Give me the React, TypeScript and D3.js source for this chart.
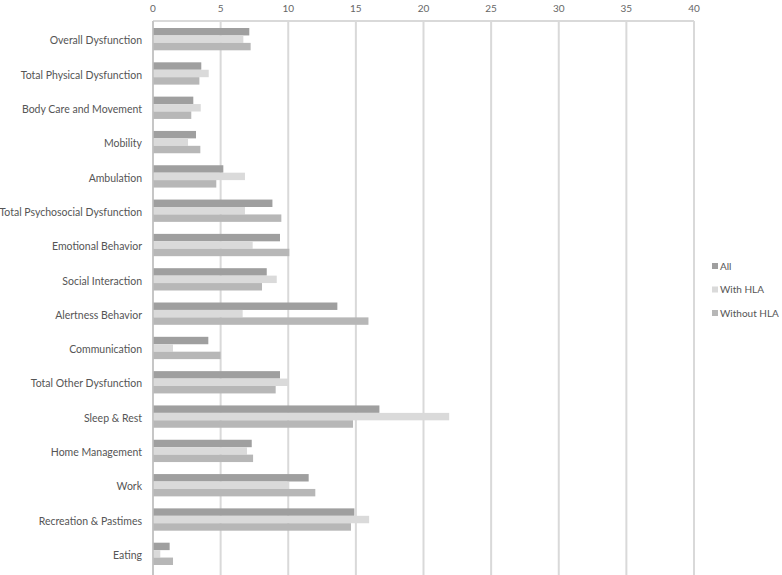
import React from "react";
import * as d3 from "d3";

const categories = [
  "Overall Dysfunction",
  "Total Physical Dysfunction",
  "Body Care and Movement",
  "Mobility",
  "Ambulation",
  "Total Psychosocial Dysfunction",
  "Emotional Behavior",
  "Social Interaction",
  "Alertness Behavior",
  "Communication",
  "Total Other Dysfunction",
  "Sleep & Rest",
  "Home Management",
  "Work",
  "Recreation & Pastimes",
  "Eating",
];

const allValues = [7.12, 3.57, 2.98, 3.18, 5.2, 8.83, 9.39, 8.41, 13.63, 4.09, 9.39, 16.74, 7.3, 11.51, 14.89, 1.23];
const withHLA = [6.68, 4.12, 3.53, 2.59, 6.8, 6.8, 7.37, 9.15, 6.63, 1.48, 10.0, 21.9, 6.95, 10.06, 15.98, 0.54];
const withoutHLA = [7.22, 3.43, 2.83, 3.5, 4.68, 9.49, 10.08, 8.06, 15.93, 5.0, 9.07, 14.79, 7.4, 12.0, 14.64, 1.48];

const seriesNames = ["All", "With HLA", "Without HLA"];
const seriesColors = ["#9f9f9f", "#dadada", "#b7b7b7"];
const ticks = [0, 5, 10, 15, 20, 25, 30, 35, 40];

const W = 782;
const H = 575;
const left = 153;
const right = 694;
const top = 21;
const bottom = 571;

export default function App() {
  const x = d3.scaleLinear().domain([0, 40]).range([left, right]);
  const y = d3.scaleBand().domain(categories).range([top + 1, bottom]).paddingInner(0.35).paddingOuter(0.175);
  const series = [allValues, withHLA, withoutHLA];
  const sub = d3.scaleBand().domain(seriesNames).range([0, y.bandwidth()]);
  const font = "Lato, 'Open Sans', sans-serif";
  return (
    <svg width={W} height={H} style={{ position: "absolute", left: 0, top: 0, background: "#fff" }}>
      <rect x={0} y={0} width={W} height={H} fill="#fff" />
      {ticks.map((t) => (
        <line key={"g" + t} x1={x(t)} x2={x(t)} y1={top} y2={H} stroke="#d9d9d9" strokeWidth={2} />
      ))}
      <line x1={left} x2={right} y1={top} y2={top} stroke="#d9d9d9" strokeWidth={2} />
      {ticks.map((t) => (
        <text key={"t" + t} x={x(t)} y={12} textAnchor="middle" fontSize={10} fill="#666" fontFamily={font}>
          {t}
        </text>
      ))}
      {categories.map((c, i) => (
        <g key={c}>
          {series.map((s, k) => (
            <rect
              key={k}
              x={x(0)}
              y={(y(c) as number) + (sub(seriesNames[k]) as number)}
              width={x(s[i]) - x(0)}
              height={sub.bandwidth()}
              fill={seriesColors[k]}
            />
          ))}
          <text
            x={142}
            y={(y(c) as number) + y.bandwidth() / 2 + 1.5}
            dy="0.35em"
            textAnchor="end"
            fontSize={10.5}
            fill="#555"
            fontFamily={font}
          >
            {c}
          </text>
        </g>
      ))}
      <line x1={left} x2={left} y1={top} y2={H} stroke="#bfbfbf" strokeWidth={1.5} />
      {seriesNames.map((n, k) => (
        <g key={n} transform={`translate(712, ${266 + k * 23.5})`}>
          <rect x={0} y={-3} width={6} height={6} fill={seriesColors[k]} />
          <text x={8} y={0} dy="0.35em" fontSize={10} fill="#555" fontFamily={font}>
            {n}
          </text>
        </g>
      ))}
    </svg>
  );
}
